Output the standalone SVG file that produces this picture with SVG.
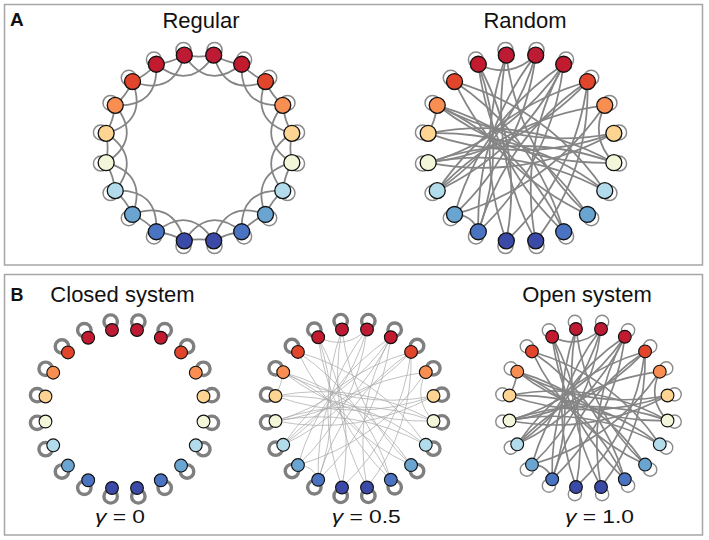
<svg xmlns="http://www.w3.org/2000/svg" xmlns:xlink="http://www.w3.org/1999/xlink" width="709" height="540" viewBox="0 0 709 540">
<style>
.frame{fill:none;stroke:#a6a6a6;stroke-width:1.5}
.title{font-family:"Liberation Sans",Arial,sans-serif;font-size:22px;fill:#111;text-anchor:middle}
.lab{font-family:"Liberation Sans",Arial,sans-serif;font-weight:bold;fill:#111}
.gam{font-family:"Liberation Sans",Arial,sans-serif;font-size:19px;fill:#111}
.node circle{stroke:#111;stroke-width:1.4}
.eA{fill:none;stroke:#858585;stroke-width:1.9}
.loopA{fill:none;stroke:#8a8a8a;stroke-width:1.5}
.loopThick{fill:none;stroke:#7f7f7f;stroke-width:3.85}
.eThin{fill:none;stroke:#a9a9a9;stroke-width:0.9}
.eOpen{fill:none;stroke:#858585;stroke-width:2.1}
.loopOpen{fill:none;stroke:#8a8a8a;stroke-width:1.6}
.c0{fill:#bd1a33}.c1{fill:#c21b30}.c2{fill:#e1452c}.c3{fill:#f98e52}.c4{fill:#fdd491}
.c5{fill:#f3f6d9}.c6{fill:#b2dbeb}.c7{fill:#6aa5d2}.c8{fill:#4a74c1}.c9{fill:#3b4aa6}
</style>
<defs>
<g id="rep">
<path d="M15.64,-98.77 Q29.55,-90.96 45.40,-89.10"/>
<path d="M15.64,-98.77 Q27.75,-54.45 70.71,-70.71"/>
</g>
<g id="loops">
<circle cx="15.64" cy="-98.77" r="7.6"/><circle cx="45.40" cy="-89.10" r="7.6"/>
<circle cx="70.71" cy="-70.71" r="7.6"/><circle cx="89.10" cy="-45.40" r="7.6"/>
<circle cx="98.77" cy="-15.64" r="7.6"/><circle cx="98.77" cy="15.64" r="7.6"/>
<circle cx="89.10" cy="45.40" r="7.6"/><circle cx="70.71" cy="70.71" r="7.6"/>
<circle cx="45.40" cy="89.10" r="7.6"/><circle cx="15.64" cy="98.77" r="7.6"/>
<circle cx="-15.64" cy="98.77" r="7.6"/><circle cx="-45.40" cy="89.10" r="7.6"/>
<circle cx="-70.71" cy="70.71" r="7.6"/><circle cx="-89.10" cy="45.40" r="7.6"/>
<circle cx="-98.77" cy="15.64" r="7.6"/><circle cx="-98.77" cy="-15.64" r="7.6"/>
<circle cx="-89.10" cy="-45.40" r="7.6"/><circle cx="-70.71" cy="-70.71" r="7.6"/>
<circle cx="-45.40" cy="-89.10" r="7.6"/><circle cx="-15.64" cy="-98.77" r="7.6"/>
</g>
<g id="rand">
<path d="M-45.40,-89.10 Q-11.50,-72.58 15.64,-98.77"/>
<path d="M-15.64,-98.77 Q-51.19,0 -15.64,98.77"/>
<path d="M-15.64,-98.77 Q-35.55,5.63 15.64,98.77"/>
<path d="M-45.40,-89.10 Q-13.33,0 -45.40,89.10"/>
<path d="M-45.40,-89.10 Q3.29,-0.51 -15.64,98.77"/>
<path d="M-45.40,-89.10 Q-32.07,16.35 45.40,89.10"/>
<path d="M15.64,-98.77 Q2.97,1.51 -70.71,70.71"/>
<path d="M15.64,-98.77 Q-48.69,-15.82 -45.40,89.10"/>
<path d="M15.64,-98.77 Q-10.78,-7.84 -89.10,45.40"/>
<path d="M45.40,-89.10 Q2.36,2.36 -89.10,45.40"/>
<path d="M45.40,-89.10 Q-41.42,-30.10 -70.71,70.71"/>
<path d="M45.40,-89.10 Q32.07,16.35 -45.40,89.10"/>
<path d="M45.40,-89.10 Q-7.84,-10.78 -98.77,15.64"/>
<path d="M70.71,-70.71 Q1.51,2.97 -98.77,15.64"/>
<path d="M70.71,-70.71 Q-16.11,-11.71 -45.40,89.10"/>
<path d="M70.71,-70.71 Q58.04,29.57 -15.64,98.77"/>
<path d="M70.71,-70.71 Q-30.10,-41.42 -89.10,45.40"/>
<path d="M-98.77,-15.64 Q5.63,-35.55 98.77,15.64"/>
<path d="M-98.77,-15.64 Q6.15,-18.93 89.10,45.40"/>
<path d="M-98.77,-15.64 Q0,19.91 98.77,-15.64"/>
<path d="M-98.77,15.64 Q0,-19.91 98.77,15.64"/>
<path d="M-89.10,-45.40 Q-6.15,18.93 98.77,15.64"/>
<path d="M-89.10,-45.40 Q-0.51,3.29 98.77,-15.64"/>
<path d="M-70.71,-70.71 Q-25.46,25.46 70.71,70.71"/>
<path d="M-70.71,-70.71 Q30.10,-41.42 89.10,45.40"/>
<path d="M-70.71,-70.71 Q16.11,-11.71 45.40,89.10"/>
<path d="M89.10,-45.40 Q72.57,-11.50 98.77,15.64"/>
<path d="M89.10,-45.40 Q30.10,41.42 -70.71,70.71"/>
<path d="M89.10,-45.40 Q-16.35,-32.07 -89.10,45.40"/>
<path d="M15.64,98.77 Q-3.29,-0.51 45.40,-89.10"/>
<path d="M45.40,89.10 Q2.36,-2.36 -89.10,-45.40"/>
<path d="M-98.77,-15.64 Q-90.96,-29.55 -89.10,-45.40"/>
<path d="M-45.40,89.10 Q-51.62,71.05 -70.71,70.71"/>
<path d="M70.71,70.71 Q11.71,-16.11 -89.10,-45.40"/>
<path d="M89.10,45.40 Q0.51,-3.29 -98.77,15.64"/>
<path d="M-15.64,-98.77 Q-2.97,1.51 70.71,70.71"/>
<path d="M98.77,-15.64 Q5.63,35.55 -98.77,15.64"/>
<path d="M15.64,98.77 Q73.68,23.95 70.71,-70.71"/>
</g>
</defs>

<g id="frames">
<rect class="frame" x="4.5" y="4.5" width="698" height="260.5"/>
<rect class="frame" x="4.5" y="274.5" width="698" height="260.5"/>
</g>

<g id="labels">
<text class="lab" x="10" y="26" font-size="19">A</text>
<text class="lab" x="10.5" y="300.5" font-size="18">B</text>
<text class="title" x="201" y="27.7">Regular</text>
<text class="title" x="525" y="27.7">Random</text>
<text class="title" x="122.5" y="301.7">Closed system</text>
<text class="title" x="587" y="301.7">Open system</text>
<text class="gam" transform="translate(95,522.7) scale(1.2,1)"><tspan font-style="italic">γ</tspan> = 0</text>
<text class="gam" transform="translate(331.7,522.7) scale(1.2,1)"><tspan font-style="italic">γ</tspan> = 0.5</text>
<text class="gam" transform="translate(565,522.7) scale(1.2,1)"><tspan font-style="italic">γ</tspan> = 1.0</text>
</g>

<g id="connectors">
<g id="conn-regular" transform="translate(199,148) scale(0.94)">
<use href="#loops" class="loopA" transform="scale(1.056)"/>
<g class="eA">
<use href="#rep"/><use href="#rep" transform="rotate(18)"/><use href="#rep" transform="rotate(36)"/><use href="#rep" transform="rotate(54)"/>
<use href="#rep" transform="rotate(72)"/><use href="#rep" transform="rotate(90)"/><use href="#rep" transform="rotate(108)"/><use href="#rep" transform="rotate(126)"/>
<use href="#rep" transform="rotate(144)"/><use href="#rep" transform="rotate(162)"/><use href="#rep" transform="rotate(180)"/><use href="#rep" transform="rotate(198)"/>
<use href="#rep" transform="rotate(216)"/><use href="#rep" transform="rotate(234)"/><use href="#rep" transform="rotate(252)"/><use href="#rep" transform="rotate(270)"/>
<use href="#rep" transform="rotate(288)"/><use href="#rep" transform="rotate(306)"/><use href="#rep" transform="rotate(324)"/><use href="#rep" transform="rotate(342)"/>
</g>
</g>
<g id="conn-random" transform="translate(521,148) scale(0.94)">
<use href="#loops" class="loopA" transform="scale(1.056)"/>
<use href="#rand" class="eA"/>
</g>
<g id="conn-closed" transform="translate(124.5,409) scale(0.8)">
<use href="#loops" class="loopThick" transform="scale(1.106)"/>
</g>
<g id="conn-mid" transform="translate(354.5,408.5) scale(0.8)">
<use href="#loops" class="loopThick" transform="scale(1.106)"/>
<use href="#rand" class="eThin"/>
</g>
<g id="conn-open" transform="translate(588.5,408) scale(0.8)">
<use href="#loops" class="loopOpen" transform="scale(1.09)"/>
<use href="#rand" class="eOpen"/>
</g>
</g>

<g id="nodes-regular" transform="translate(199,148) scale(0.94)">
<g id="a1n0" class="node"><circle class="c0" cx="15.64" cy="-98.77" r="8.5"/></g>
<g id="a1n1" class="node"><circle class="c1" cx="45.40" cy="-89.10" r="8.5"/></g>
<g id="a1n2" class="node"><circle class="c2" cx="70.71" cy="-70.71" r="8.5"/></g>
<g id="a1n3" class="node"><circle class="c3" cx="89.10" cy="-45.40" r="8.5"/></g>
<g id="a1n4" class="node"><circle class="c4" cx="98.77" cy="-15.64" r="8.5"/></g>
<g id="a1n5" class="node"><circle class="c5" cx="98.77" cy="15.64" r="8.5"/></g>
<g id="a1n6" class="node"><circle class="c6" cx="89.10" cy="45.40" r="8.5"/></g>
<g id="a1n7" class="node"><circle class="c7" cx="70.71" cy="70.71" r="8.5"/></g>
<g id="a1n8" class="node"><circle class="c8" cx="45.40" cy="89.10" r="8.5"/></g>
<g id="a1n9" class="node"><circle class="c9" cx="15.64" cy="98.77" r="8.5"/></g>
<g id="a1n10" class="node"><circle class="c9" cx="-15.64" cy="98.77" r="8.5"/></g>
<g id="a1n11" class="node"><circle class="c8" cx="-45.40" cy="89.10" r="8.5"/></g>
<g id="a1n12" class="node"><circle class="c7" cx="-70.71" cy="70.71" r="8.5"/></g>
<g id="a1n13" class="node"><circle class="c6" cx="-89.10" cy="45.40" r="8.5"/></g>
<g id="a1n14" class="node"><circle class="c5" cx="-98.77" cy="15.64" r="8.5"/></g>
<g id="a1n15" class="node"><circle class="c4" cx="-98.77" cy="-15.64" r="8.5"/></g>
<g id="a1n16" class="node"><circle class="c3" cx="-89.10" cy="-45.40" r="8.5"/></g>
<g id="a1n17" class="node"><circle class="c2" cx="-70.71" cy="-70.71" r="8.5"/></g>
<g id="a1n18" class="node"><circle class="c1" cx="-45.40" cy="-89.10" r="8.5"/></g>
<g id="a1n19" class="node"><circle class="c0" cx="-15.64" cy="-98.77" r="8.5"/></g>
</g>

<g id="nodes-random" transform="translate(521,148) scale(0.94)">
<g id="a2n0" class="node"><circle class="c0" cx="15.64" cy="-98.77" r="8.5"/></g>
<g id="a2n1" class="node"><circle class="c1" cx="45.40" cy="-89.10" r="8.5"/></g>
<g id="a2n2" class="node"><circle class="c2" cx="70.71" cy="-70.71" r="8.5"/></g>
<g id="a2n3" class="node"><circle class="c3" cx="89.10" cy="-45.40" r="8.5"/></g>
<g id="a2n4" class="node"><circle class="c4" cx="98.77" cy="-15.64" r="8.5"/></g>
<g id="a2n5" class="node"><circle class="c5" cx="98.77" cy="15.64" r="8.5"/></g>
<g id="a2n6" class="node"><circle class="c6" cx="89.10" cy="45.40" r="8.5"/></g>
<g id="a2n7" class="node"><circle class="c7" cx="70.71" cy="70.71" r="8.5"/></g>
<g id="a2n8" class="node"><circle class="c8" cx="45.40" cy="89.10" r="8.5"/></g>
<g id="a2n9" class="node"><circle class="c9" cx="15.64" cy="98.77" r="8.5"/></g>
<g id="a2n10" class="node"><circle class="c9" cx="-15.64" cy="98.77" r="8.5"/></g>
<g id="a2n11" class="node"><circle class="c8" cx="-45.40" cy="89.10" r="8.5"/></g>
<g id="a2n12" class="node"><circle class="c7" cx="-70.71" cy="70.71" r="8.5"/></g>
<g id="a2n13" class="node"><circle class="c6" cx="-89.10" cy="45.40" r="8.5"/></g>
<g id="a2n14" class="node"><circle class="c5" cx="-98.77" cy="15.64" r="8.5"/></g>
<g id="a2n15" class="node"><circle class="c4" cx="-98.77" cy="-15.64" r="8.5"/></g>
<g id="a2n16" class="node"><circle class="c3" cx="-89.10" cy="-45.40" r="8.5"/></g>
<g id="a2n17" class="node"><circle class="c2" cx="-70.71" cy="-70.71" r="8.5"/></g>
<g id="a2n18" class="node"><circle class="c1" cx="-45.40" cy="-89.10" r="8.5"/></g>
<g id="a2n19" class="node"><circle class="c0" cx="-15.64" cy="-98.77" r="8.5"/></g>
</g>

<g id="nodes-closed" transform="translate(124.5,409) scale(0.8)">
<g id="b1n0" class="node"><circle class="c0" cx="15.64" cy="-98.77" r="8"/></g>
<g id="b1n1" class="node"><circle class="c1" cx="45.40" cy="-89.10" r="8"/></g>
<g id="b1n2" class="node"><circle class="c2" cx="70.71" cy="-70.71" r="8"/></g>
<g id="b1n3" class="node"><circle class="c3" cx="89.10" cy="-45.40" r="8"/></g>
<g id="b1n4" class="node"><circle class="c4" cx="98.77" cy="-15.64" r="8"/></g>
<g id="b1n5" class="node"><circle class="c5" cx="98.77" cy="15.64" r="8"/></g>
<g id="b1n6" class="node"><circle class="c6" cx="89.10" cy="45.40" r="8"/></g>
<g id="b1n7" class="node"><circle class="c7" cx="70.71" cy="70.71" r="8"/></g>
<g id="b1n8" class="node"><circle class="c8" cx="45.40" cy="89.10" r="8"/></g>
<g id="b1n9" class="node"><circle class="c9" cx="15.64" cy="98.77" r="8"/></g>
<g id="b1n10" class="node"><circle class="c9" cx="-15.64" cy="98.77" r="8"/></g>
<g id="b1n11" class="node"><circle class="c8" cx="-45.40" cy="89.10" r="8"/></g>
<g id="b1n12" class="node"><circle class="c7" cx="-70.71" cy="70.71" r="8"/></g>
<g id="b1n13" class="node"><circle class="c6" cx="-89.10" cy="45.40" r="8"/></g>
<g id="b1n14" class="node"><circle class="c5" cx="-98.77" cy="15.64" r="8"/></g>
<g id="b1n15" class="node"><circle class="c4" cx="-98.77" cy="-15.64" r="8"/></g>
<g id="b1n16" class="node"><circle class="c3" cx="-89.10" cy="-45.40" r="8"/></g>
<g id="b1n17" class="node"><circle class="c2" cx="-70.71" cy="-70.71" r="8"/></g>
<g id="b1n18" class="node"><circle class="c1" cx="-45.40" cy="-89.10" r="8"/></g>
<g id="b1n19" class="node"><circle class="c0" cx="-15.64" cy="-98.77" r="8"/></g>
</g>

<g id="nodes-mid" transform="translate(354.5,408.5) scale(0.8)">
<g id="b2n0" class="node"><circle class="c0" cx="15.64" cy="-98.77" r="8"/></g>
<g id="b2n1" class="node"><circle class="c1" cx="45.40" cy="-89.10" r="8"/></g>
<g id="b2n2" class="node"><circle class="c2" cx="70.71" cy="-70.71" r="8"/></g>
<g id="b2n3" class="node"><circle class="c3" cx="89.10" cy="-45.40" r="8"/></g>
<g id="b2n4" class="node"><circle class="c4" cx="98.77" cy="-15.64" r="8"/></g>
<g id="b2n5" class="node"><circle class="c5" cx="98.77" cy="15.64" r="8"/></g>
<g id="b2n6" class="node"><circle class="c6" cx="89.10" cy="45.40" r="8"/></g>
<g id="b2n7" class="node"><circle class="c7" cx="70.71" cy="70.71" r="8"/></g>
<g id="b2n8" class="node"><circle class="c8" cx="45.40" cy="89.10" r="8"/></g>
<g id="b2n9" class="node"><circle class="c9" cx="15.64" cy="98.77" r="8"/></g>
<g id="b2n10" class="node"><circle class="c9" cx="-15.64" cy="98.77" r="8"/></g>
<g id="b2n11" class="node"><circle class="c8" cx="-45.40" cy="89.10" r="8"/></g>
<g id="b2n12" class="node"><circle class="c7" cx="-70.71" cy="70.71" r="8"/></g>
<g id="b2n13" class="node"><circle class="c6" cx="-89.10" cy="45.40" r="8"/></g>
<g id="b2n14" class="node"><circle class="c5" cx="-98.77" cy="15.64" r="8"/></g>
<g id="b2n15" class="node"><circle class="c4" cx="-98.77" cy="-15.64" r="8"/></g>
<g id="b2n16" class="node"><circle class="c3" cx="-89.10" cy="-45.40" r="8"/></g>
<g id="b2n17" class="node"><circle class="c2" cx="-70.71" cy="-70.71" r="8"/></g>
<g id="b2n18" class="node"><circle class="c1" cx="-45.40" cy="-89.10" r="8"/></g>
<g id="b2n19" class="node"><circle class="c0" cx="-15.64" cy="-98.77" r="8"/></g>
</g>

<g id="nodes-open" transform="translate(588.5,408) scale(0.8)">
<g id="b3n0" class="node"><circle class="c0" cx="15.64" cy="-98.77" r="8"/></g>
<g id="b3n1" class="node"><circle class="c1" cx="45.40" cy="-89.10" r="8"/></g>
<g id="b3n2" class="node"><circle class="c2" cx="70.71" cy="-70.71" r="8"/></g>
<g id="b3n3" class="node"><circle class="c3" cx="89.10" cy="-45.40" r="8"/></g>
<g id="b3n4" class="node"><circle class="c4" cx="98.77" cy="-15.64" r="8"/></g>
<g id="b3n5" class="node"><circle class="c5" cx="98.77" cy="15.64" r="8"/></g>
<g id="b3n6" class="node"><circle class="c6" cx="89.10" cy="45.40" r="8"/></g>
<g id="b3n7" class="node"><circle class="c7" cx="70.71" cy="70.71" r="8"/></g>
<g id="b3n8" class="node"><circle class="c8" cx="45.40" cy="89.10" r="8"/></g>
<g id="b3n9" class="node"><circle class="c9" cx="15.64" cy="98.77" r="8"/></g>
<g id="b3n10" class="node"><circle class="c9" cx="-15.64" cy="98.77" r="8"/></g>
<g id="b3n11" class="node"><circle class="c8" cx="-45.40" cy="89.10" r="8"/></g>
<g id="b3n12" class="node"><circle class="c7" cx="-70.71" cy="70.71" r="8"/></g>
<g id="b3n13" class="node"><circle class="c6" cx="-89.10" cy="45.40" r="8"/></g>
<g id="b3n14" class="node"><circle class="c5" cx="-98.77" cy="15.64" r="8"/></g>
<g id="b3n15" class="node"><circle class="c4" cx="-98.77" cy="-15.64" r="8"/></g>
<g id="b3n16" class="node"><circle class="c3" cx="-89.10" cy="-45.40" r="8"/></g>
<g id="b3n17" class="node"><circle class="c2" cx="-70.71" cy="-70.71" r="8"/></g>
<g id="b3n18" class="node"><circle class="c1" cx="-45.40" cy="-89.10" r="8"/></g>
<g id="b3n19" class="node"><circle class="c0" cx="-15.64" cy="-98.77" r="8"/></g>
</g>
</svg>
